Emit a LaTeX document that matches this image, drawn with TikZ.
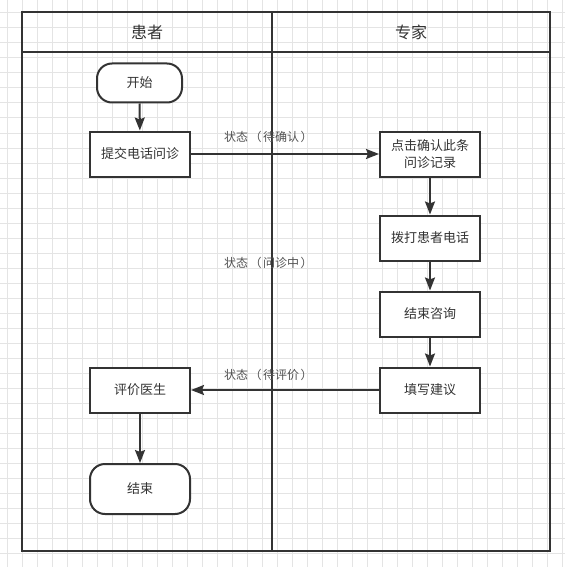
\documentclass[tikz,border=0pt]{standalone}
\usepackage{fontspec}
\setmainfont{Noto Sans CJK SC}
\usetikzlibrary{arrows.meta,positioning}
\definecolor{ink}{HTML}{333333}
\definecolor{gridline}{HTML}{E4E4E4}
\newcommand\lpar{\makebox[1.25em][c]{（}}
\newcommand\rpar{\makebox[1.25em][c]{）}}

\begin{document}
\begin{tikzpicture}[x=1pt,y=-1pt,
  lane/.style={draw=ink,line width=2pt},
  box/.style={draw=ink,line width=2pt,fill=white,text=ink,align=center,
    minimum width=100pt,minimum height=45pt,inner sep=2pt,
    font=\fontsize{13}{17}\selectfont},
  term/.style={box,rounded corners=15pt},
  flow/.style={draw=ink,line width=2pt,-{Stealth[length=13pt,width=10pt,inset=2pt]}},
  state/.style={text=ink!85,font=\fontsize{12}{14}\selectfont}]
\useasboundingbox (0,0) rectangle (565,567);
\fill[white] (0,0) rectangle (565,567);
% background grid
\foreach \i in {0,...,37}
  \draw[gridline,line width=1pt] (7.7+15*\i,0)--(7.7+15*\i,567);
\foreach \j in {0,...,37}
  \draw[gridline,line width=1pt] (0,13+15*\j)--(565,13+15*\j);
% swimlanes
\draw[lane] (22,12) rectangle (550,551);
\draw[lane] (22,52)--(550,52);
\draw[lane] (272,12)--(272,551);
\node[text=ink,font=\fontsize{16}{18}\selectfont] (patient) at (147,32){患者};
\node[text=ink,font=\fontsize{16}{18}\selectfont] (expert) at (411,32){专家};
% patient side
\node[term,minimum width=85pt,minimum height=39pt] (start) at (139.5,83){开始};
\node[box] (submit) at (140,154){提交电话问诊};
\node[box] (rate) at (140,390){评价医生};
\node[term,minimum height=50pt] (stop) at (140,489){结束};
% expert side
\node[box] (confirm) at (430,154){点击确认此条\\问诊记录};
\node[box] (call) at (430,238){拨打患者电话};
\node[box] (finish) at (430,314){结束咨询};
\node[box] (advise) at (430,390){填写建议};
% states
\node[state] (s1) at (269,137){状态\lpar 待确认\rpar};
\node[state] (s2) at (269,263){状态\lpar 问诊中\rpar};
\node[state] (s3) at (269,375){状态\lpar 待评价\rpar};
% arrows
\draw[flow] (start)--(submit);
\draw[flow] (submit)--(confirm);
\draw[flow] (confirm)--(call);
\draw[flow] (call)--(finish);
\draw[flow] (finish)--(advise);
\draw[flow] (advise)--(rate);
\draw[flow] (rate)--(stop);
\end{tikzpicture}
\end{document}
